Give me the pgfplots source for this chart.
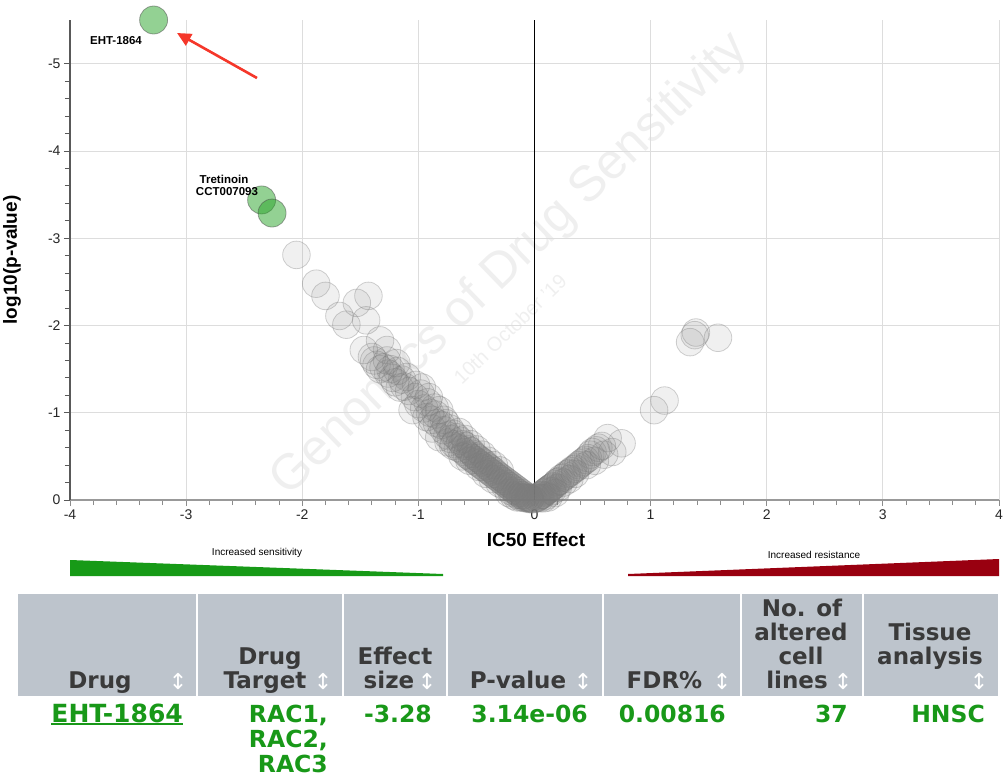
\documentclass[border=0pt]{standalone}
\usepackage{pgfplots}
\pgfplotsset{compat=1.18}
\usepackage{pgfplotstable}
\usepackage{fontspec}
\setmainfont{Liberation Sans}
\newfontfamily\vfont{DejaVu Sans}
\usetikzlibrary{arrows.meta}
\definecolor{gridc}{HTML}{DDDDDD}
\definecolor{hdr}{HTML}{BDC4CC}
\definecolor{hdrtxt}{HTML}{3A3A3A}
\definecolor{tgreen}{HTML}{189818}
\definecolor{trigreen}{HTML}{179A17}
\definecolor{trired}{HTML}{990010}
\definecolor{arrowred}{HTML}{F5372A}
\definecolor{wm}{HTML}{EFEFEF}
\definecolor{bub}{HTML}{7A7A7A}
\definecolor{gbub}{HTML}{28A428}

\pgfplotstableread{
x y
-2.05 -2.81
-1.88 -2.48
-1.80 -2.34
-1.68 -2.11
-1.62 -2.01
-1.53 -2.26
-1.43 -2.34
-1.45 -2.06
-1.47 -1.72
-1.33 -1.83
-1.40 -1.64
-1.27 -1.72
-1.38 -1.60
-1.36 -1.55
-1.33 -1.50
-1.30 -1.52
-1.26 -1.45
-1.24 -1.50
-1.22 -1.40
-1.19 -1.57
-1.20 -1.35
-1.16 -1.29
-1.14 -1.38
-1.10 -1.41
-1.08 -1.25
-1.05 -1.03
-1.03 -1.18
-1.00 -1.10
-0.97 -1.29
-0.95 -1.05
-0.93 -0.95
-0.91 -1.18
-0.90 -1.00
-0.88 -0.92
-0.86 -1.06
-0.84 -0.88
-0.82 -1.03
-0.82 -0.72
-0.80 -0.86
-0.78 -0.80
-0.76 -0.88
-0.75 -0.74
-0.73 -0.82
-0.72 -0.70
-0.70 -0.76
-0.69 -0.64
-0.67 -0.72
-0.66 -0.60
-0.64 -0.68
-0.63 -0.58
-0.62 -0.64
-0.60 -0.55
-0.59 -0.62
-0.58 -0.52
-0.57 -0.58
-0.56 -0.50
-0.55 -0.56
-0.54 -0.48
-0.53 -0.53
-0.52 -0.46
-0.51 -0.50
-0.50 -0.44
-0.49 -0.48
-0.48 -0.42
-0.47 -0.46
-0.46 -0.40
-0.45 -0.44
-0.44 -0.38
-0.43 -0.42
-0.42 -0.36
-0.41 -0.39
-0.40 -0.34
-0.39 -0.37
-0.38 -0.32
-0.37 -0.35
-0.36 -0.30
-0.35 -0.33
-0.34 -0.28
-0.33 -0.30
-0.32 -0.26
-0.31 -0.28
-0.30 -0.24
-0.29 -0.26
-0.28 -0.22
-0.27 -0.24
-0.26 -0.20
-0.25 -0.22
-0.24 -0.18
-0.23 -0.20
-0.22 -0.16
-0.21 -0.18
-0.20 -0.14
-0.19 -0.16
-0.18 -0.12
-0.17 -0.14
-0.16 -0.10
-0.15 -0.12
-0.14 -0.08
-0.13 -0.10
-0.12 -0.06
-0.11 -0.08
-0.10 -0.05
-0.09 -0.06
-0.08 -0.03
-0.07 -0.04
-0.06 -0.02
-0.05 -0.03
-0.04 -0.01
-0.03 -0.02
-0.02 -0.01
-0.01 -0.01
-0.65 -0.78
-0.60 -0.70
-0.55 -0.64
-0.50 -0.58
-0.45 -0.52
-0.40 -0.45
-0.35 -0.40
-0.30 -0.34
-0.70 -0.62
-0.62 -0.50
-0.56 -0.45
-0.48 -0.38
-0.42 -0.30
-0.36 -0.24
-0.30 -0.19
-0.25 -0.15
-0.20 -0.10
-0.15 -0.06
-0.10 -0.03
-0.05 -0.02
-0.12 -0.03
-0.18 -0.05
-0.08 -0.02
-0.15 -0.03
-0.22 -0.08
-0.04 -0.02
-0.85 -0.98
-0.92 -1.12
-0.98 -1.22
-0.78 -0.92
-0.74 -0.66
-0.88 -0.82
-1.12 -1.30
-1.18 -1.48
-1.27 -1.60
-1.02 -1.32
0.01 -0.02
0.02 -0.02
0.03 -0.03
0.04 -0.04
0.05 -0.05
0.06 -0.06
0.07 -0.06
0.08 -0.08
0.09 -0.09
0.10 -0.10
0.11 -0.11
0.12 -0.12
0.13 -0.13
0.14 -0.14
0.15 -0.15
0.16 -0.16
0.18 -0.18
0.19 -0.20
0.20 -0.21
0.22 -0.22
0.23 -0.25
0.25 -0.26
0.27 -0.28
0.28 -0.30
0.30 -0.31
0.32 -0.33
0.33 -0.35
0.35 -0.36
0.37 -0.38
0.38 -0.40
0.40 -0.42
0.42 -0.44
0.44 -0.46
0.46 -0.48
0.48 -0.52
0.50 -0.55
0.53 -0.57
0.55 -0.60
0.58 -0.62
0.63 -0.71
0.67 -0.55
0.75 -0.65
0.60 -0.52
0.52 -0.45
0.45 -0.40
0.05 -0.02
0.10 -0.05
0.15 -0.10
0.20 -0.14
0.08 -0.02
0.12 -0.03
0.18 -0.08
0.25 -0.20
0.30 -0.24
0.35 -0.30
1.03 -1.03
1.12 -1.14
1.34 -1.81
1.38 -1.89
1.39 -1.92
1.58 -1.86
}\graydata

\pgfplotstableread{
x y
-3.28 -5.503
-2.35 -3.44
-2.26 -3.29
}\greendata

\begin{document}
\begin{tikzpicture}
\path[use as bounding box] (0pt,0pt) rectangle (1006pt,-778pt);
\begin{scope}[x=1pt,y=-1pt]
\node[rotate=44, text=wm, font=\fontsize{50}{60}\selectfont] at (510,265) {Genomics of Drug Sensitivity};
\node[rotate=44, text=wm, font=\fontsize{20}{24}\selectfont] at (510,329) {10th October '19};
\end{scope}
\begin{axis}[at={(70pt,-500pt)}, anchor=south west, scale only axis,
  width=929pt, height=480pt,
  xmin=-4, xmax=4, ymin=-5.503, ymax=0, y dir=reverse,
  clip=false,
  axis x line*=bottom, axis y line*=left,
  x axis line style={draw=black!40, line width=2pt, -},
  y axis line style={draw=black!65, line width=1.3pt, -},
  xtick={-4,-3,-2,-1,0,1,2,3,4},
  xticklabels={-4,-3,-2,-1,0,1,2,3,4},
  ytick={-5,-4,-3,-2,-1,0},
  yticklabels={-5,-4,-3,-2,-1,0},
  minor x tick num=4, minor y tick num=4,
  tick align=outside,
  major tick length=6pt, minor tick length=5pt,
  x tick style={draw=black!45, line width=1pt},
  y tick style={draw=black!65, line width=1pt},
  grid=major,
  major grid style={draw=gridc, line width=1pt},
  tick label style={font=\fontsize{14}{16}\selectfont, text=black!85},
]
\addplot[only marks, mark=*, mark size=13.8pt,
  mark options={fill=bub, fill opacity=0.11, draw=bub, draw opacity=0.35, line width=0.8pt}]
  table[x=x, y=y] {\graydata};
\draw[black, line width=1pt] (axis cs:0,0) -- (axis cs:0,-5.503);
\addplot[only marks, mark=*, mark size=14pt,
  mark options={fill=gbub, fill opacity=0.5, draw=black!70, draw opacity=0.5, line width=0.8pt}]
  table[x=x, y=y] {\greendata};
\end{axis}
\begin{scope}[x=1pt,y=-1pt]
% annotations
\node[font=\fontsize{11.5}{13}\selectfont\bfseries] at (116,41) {EHT-1864};
\node[font=\fontsize{11.5}{13}\selectfont\bfseries] at (224,179) {Tretinoin};
\node[font=\fontsize{11.5}{13}\selectfont\bfseries] at (227,192) {CCT007093};
\draw[arrowred, line width=2.6pt, -{Triangle[length=14pt,width=13pt]}] (257,78) -- (177,33);
% axis titles
\node[font=\fontsize{19}{22}\selectfont\bfseries] at (536,540) {IC50 Effect};
\node[font=\fontsize{19}{22}\selectfont\bfseries, rotate=90] at (12,260) {log10(p-value)};
% sensitivity / resistance
\node[font=\fontsize{10}{12}\selectfont] at (257,553) {Increased sensitivity};
\node[font=\fontsize{10}{12}\selectfont] at (814,555) {Increased resistance};
\fill[trigreen] (70,560) -- (443,574) -- (443,576) -- (70,576) -- cycle;
\fill[trired] (628,574) -- (999,559) -- (999,576) -- (628,576) -- cycle;
% table header
\foreach \a/\b in {18/196, 198/342, 344/446, 448/602, 604/740, 742/862, 864/998}{
  \fill[hdr] (\a,594) rectangle (\b,696);
}
\begin{scope}[every node/.style={font=\vfont\bfseries\fontsize{23}{24}\selectfont, text=hdrtxt, anchor=base, inner sep=0pt}]
\node at (100,688) {Drug};
\node at (270,664) {Drug};
\node at (265,688) {Target};
\node at (395,664) {Effect};
\node at (389,688) {size};
\node at (518,688) {P-value};
\node at (664.5,688) {FDR\%};
\node at (802,616) {No. of};
\node at (801,640) {altered};
\node at (801,664) {cell};
\node at (797,688) {lines};
\node at (930,640) {Tissue};
\node at (930,664) {analysis};
\end{scope}
\begin{scope}[every node/.style={font=\vfont\fontsize{22}{24}\selectfont, text=white, inner sep=0pt}]
\node at (178,682) {↕};
\node at (323,682) {↕};
\node at (427,682) {↕};
\node at (583,682) {↕};
\node at (722,682) {↕};
\node at (843,682) {↕};
\node at (979,682) {↕};
\end{scope}
% data row
\begin{scope}[every node/.style={font=\vfont\bfseries\fontsize{23.5}{25}\selectfont, text=tgreen, anchor=base east, inner sep=0pt}]
\node[font=\vfont\bfseries\fontsize{25}{25}\selectfont] (eht) at (183,722) {EHT-1864};
\node at (328,722) {RAC1,};
\node at (328,747) {RAC2,};
\node at (328,772) {RAC3};
\node at (432,722) {-3.28};
\node at (588,722) {3.14e-06};
\node at (726,722) {0.00816};
\node at (848,722) {37};
\node at (985,722) {HNSC};
\end{scope}
\draw[tgreen, line width=2pt] ([yshift=-2pt]eht.base west) -- ([yshift=-2pt]eht.base east);
\end{scope}
\end{tikzpicture}
\end{document}
